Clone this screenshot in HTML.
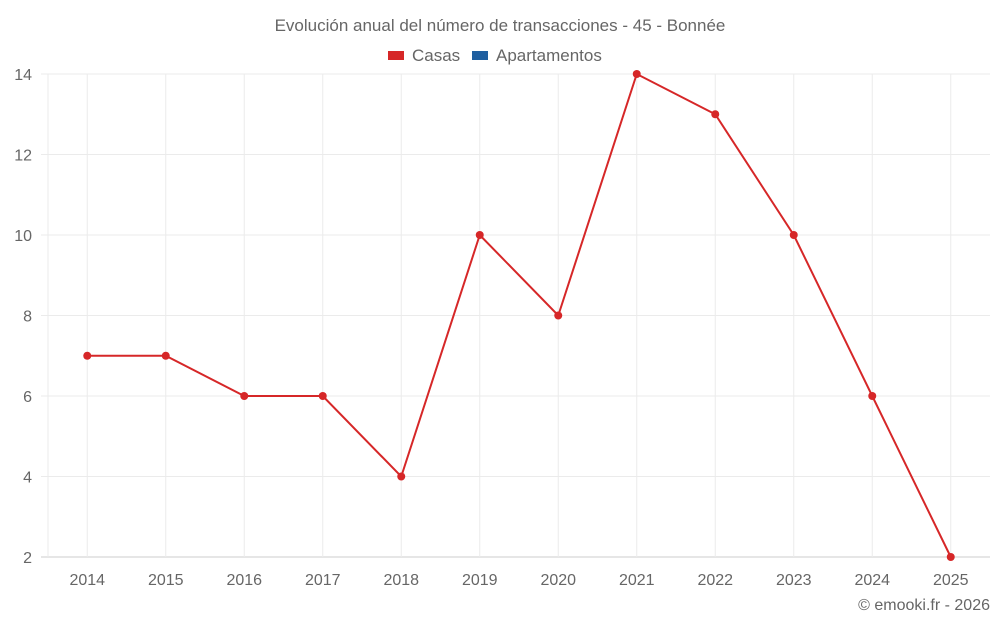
<!DOCTYPE html>
<html><head><meta charset="utf-8"><style>
body{margin:0;background:#fff;font-family:"Liberation Sans",sans-serif;}
svg text{font-family:"Liberation Sans",sans-serif;fill:#666;}
</style></head><body>
<svg width="1000" height="625">
<text x="500" y="31" text-anchor="middle" font-size="17">Evolución anual del número de transacciones - 45 - Bonnée</text>
<g>
<rect x="388" y="51" width="16" height="9" fill="#d62728"/>
<text x="412" y="61" font-size="17">Casas</text>
<rect x="472" y="51" width="16" height="9" fill="#1f5fa0"/>
<text x="496" y="61" font-size="17">Apartamentos</text>
</g>
<g id="grid"></g><g id="axes"></g><g id="series"></g>
<text x="990" y="610" text-anchor="end" font-size="16">© emooki.fr - 2026</text>
</svg>
<script>
const categories=["2014","2015","2016","2017","2018","2019","2020","2021","2022","2023","2024","2025"];
const casas=[7,7,6,6,4,10,8,14,13,10,6,2];
const yTicks=[2,4,6,8,10,12,14];
const L=48,R=990,T=74,B=557,yMin=2,yMax=14;
const bw=(R-L)/categories.length;
const x=i=>L+bw*(i+0.5);
const y=v=>B-(v-yMin)/(yMax-yMin)*(B-T);
const NS="http://www.w3.org/2000/svg";
function mk(t,a,p){const e=document.createElementNS(NS,t);for(const k in a)e.setAttribute(k,a[k]);p.appendChild(e);return e;}
const g=document.getElementById('grid'),ax=document.getElementById('axes'),s=document.getElementById('series');
yTicks.forEach(v=>{
const l=mk('line',{x1:41,x2:R,y1:y(v),y2:y(v),stroke:v===yMin?'#ccc':'#ebebeb'},g);


const t=mk('text',{x:32,y:y(v)+6,'text-anchor':'end','font-size':16},ax);t.textContent=v;


});
const le=mk('line',{x1:L,x2:L,y1:T,y2:B,stroke:'#ebebeb'},g);


categories.forEach((c,i)=>{
const l=mk('line',{x1:x(i),x2:x(i),y1:T,y2:B,stroke:'#ebebeb'},g);


const t=mk('text',{x:x(i),y:585,'text-anchor':'middle','font-size':16},ax);t.textContent=c;


});
const p=mk('polyline',{points:casas.map((v,i)=>x(i)+','+y(v)).join(' '),fill:'none',stroke:'#d62728','stroke-width':2},s);


casas.forEach((v,i)=>{
const c=mk('circle',{cx:x(i),cy:y(v),r:4,fill:'#d62728'},s);


});
</script>
</body></html>
